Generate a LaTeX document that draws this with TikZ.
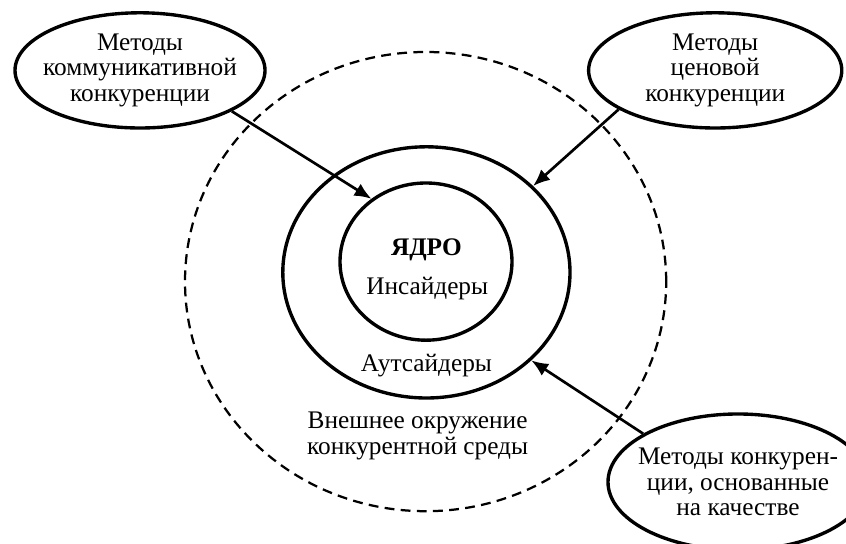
\documentclass[tikz,border=0pt]{standalone}
\usepackage{fontspec}
\setmainfont{Liberation Serif}
\usetikzlibrary{shapes.geometric}
\usetikzlibrary{arrows.meta}

\begin{document}
\begin{tikzpicture}[
        every node/.style={font=\fontsize{18}{18}\selectfont},
        method/.style={draw, ellipse, line width=2.4pt, align=center, inner xsep=-1cm, inner ysep=-0.5cm},
        ring/.style={draw, ellipse, line width=2.4pt, inner sep=0pt},
        influence/.style={-{Latex[length=12pt,width=10pt]}, line width=1.9pt}
    ]
        \path[use as bounding box, clip] (0,0) rectangle (21.15,13.6);

        \node[ring, line width=1.6pt, dash pattern=on 7pt off 4.5pt, minimum width=12.03cm, minimum height=11.48cm] (env) at (10.64,6.56) {};
        \node[ring, minimum width=7.18cm, minimum height=6.28cm] (outer) at (10.66,6.79) {};
        \node[ring, minimum width=4.3cm, minimum height=3.93cm] (core) at (10.65,7.06) {};

        \node[anchor=base] (coretitle) at (10.66,7.2) {\bfseries ЯДРО};
        \node[anchor=base] (insiders) at (10.68,6.23) {Инсайдеры};
        \node[anchor=base] (outsiders) at (10.66,4.3) {Аутсайдеры};
        \node[align=center] (envtext) at (10.44,2.7) {Внешнее окружение\\конкурентной среды};

        \node[method, minimum width=6.25cm, minimum height=2.88cm] (commmeth) at (3.5,11.84) {Методы\\коммуникативной\\конкуренции};
        \node[method, minimum width=6.33cm, minimum height=2.88cm] (pricemeth) at (17.88,11.84) {Методы\\ценовой\\конкуренции};
        \node[method, minimum width=6.5cm, minimum height=3.4cm] (qualmeth) at (18.45,1.55) {Методы конкурен-\\ции, основанные\\на качестве};

        \draw[influence] (commmeth.-24) -- (core.131);
        \draw[influence] (pricemeth.202) -- (outer.39);
        \draw[influence] (qualmeth.153) -- (outer.-40);
    \end{tikzpicture}
\end{document}
